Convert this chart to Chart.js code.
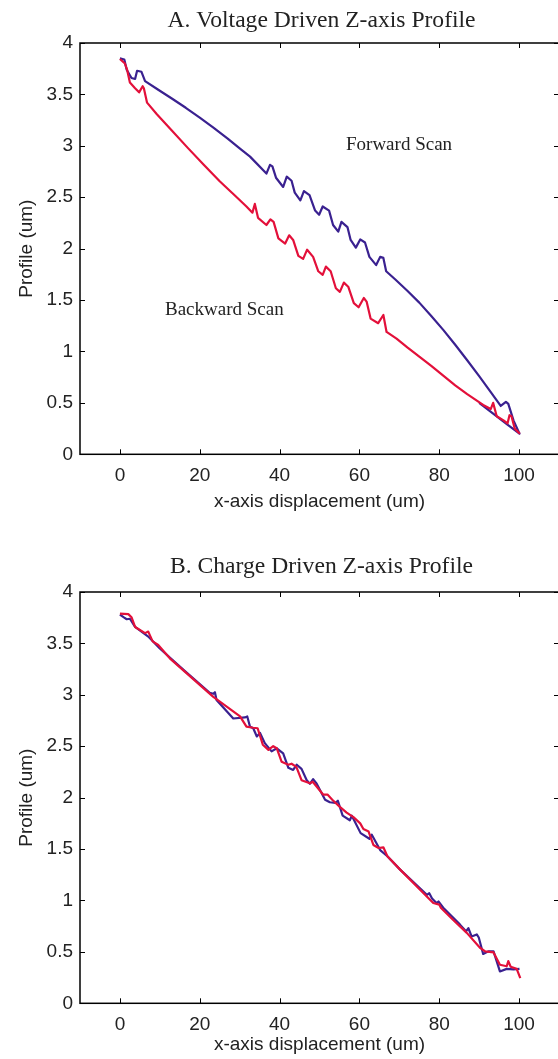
<!DOCTYPE html>
<html><head><meta charset="utf-8">
<script src="https://cdn.jsdelivr.net/npm/chart.js@4"></script>
<style>
html,body{margin:0;padding:0;background:#fff;overflow:hidden;width:558px;height:1059px;position:relative;}
canvas{position:absolute;left:0;}
#cA{top:0px}
#cB{top:549px}
</style></head><body>
<canvas id="cA" width="562" height="549"></canvas>
<canvas id="cB" width="562" height="549"></canvas>
<script>
// ---------- data ----------
const xTickVals = [0, 20, 40, 60, 80, 100];
const yTickVals = [0, 0.5, 1, 1.5, 2, 2.5, 3, 3.5, 4];
const yTickLabels = ['0', '0.5', '1', '1.5', '2', '2.5', '3', '3.5', '4'];

const titleA = 'A. Voltage Driven Z-axis Profile';
const titleB = 'B. Charge Driven Z-axis Profile';
const xAxisTitle = 'x-axis displacement (um)';
const yAxisTitle = 'Profile (um)';
const noteForward = 'Forward Scan';
const noteBackward = 'Backward Scan';

// A: forward scan (blue)
const aFwdX = [0, 1.1, 1.7, 2.9, 3.8, 4.3, 5.4, 6.3, 9.6, 13, 16.5, 20, 23.5, 27, 30, 32.6, 36.7, 37.6, 38.2, 39.1, 40.9, 41.8, 43.0, 43.8, 45.2, 46.1, 47.5, 48.9, 49.9, 50.8, 52.4, 53.4, 54.7, 55.5, 57.0, 57.8, 59.1, 60.2, 61.4, 62.5, 64.2, 65.2, 66.0, 66.7, 69, 72, 75, 78, 81, 84, 87, 90, 93, 95.4, 96.7, 97.3, 98.6, 100.1, 97, 94, 90];
const aFwdY = [3.85, 3.84, 3.74, 3.66, 3.65, 3.73, 3.72, 3.63, 3.545, 3.46, 3.37, 3.275, 3.175, 3.07, 2.975, 2.895, 2.73, 2.815, 2.80, 2.69, 2.60, 2.70, 2.66, 2.545, 2.47, 2.56, 2.52, 2.37, 2.33, 2.41, 2.37, 2.23, 2.165, 2.26, 2.21, 2.085, 2.01, 2.09, 2.06, 1.92, 1.84, 1.92, 1.91, 1.78, 1.70, 1.59, 1.475, 1.345, 1.21, 1.065, 0.915, 0.76, 0.60, 0.47, 0.51, 0.49, 0.33, 0.20, 0.29, 0.38, 0.50];
// A: backward scan (red)
const aBwdX = [0, 1.25, 1.8, 2.5, 3.8, 4.8, 5.7, 6.0, 6.8, 9.2, 13, 17, 21, 25, 29, 31.7, 33.2, 33.8, 34.6, 36.7, 37.7, 38.5, 39.7, 41.4, 42.4, 43.4, 44.7, 45.9, 46.9, 48.4, 49.7, 50.8, 51.6, 52.8, 54.1, 55.1, 56.1, 57.2, 58.6, 59.8, 61.1, 61.8, 62.8, 64.7, 66.0, 66.8, 69.3, 72, 75, 78, 81, 84, 87, 91.0, 92.9, 93.5, 94.4, 96.1, 97.1, 97.6, 98.1, 98.9, 100.2];
const aBwdY = [3.845, 3.80, 3.74, 3.615, 3.56, 3.52, 3.58, 3.56, 3.42, 3.31, 3.15, 2.98, 2.815, 2.655, 2.51, 2.41, 2.35, 2.435, 2.30, 2.23, 2.285, 2.26, 2.10, 2.05, 2.13, 2.085, 1.93, 1.90, 1.99, 1.92, 1.78, 1.745, 1.825, 1.78, 1.615, 1.58, 1.67, 1.63, 1.47, 1.43, 1.52, 1.485, 1.32, 1.275, 1.355, 1.19, 1.125, 1.04, 0.95, 0.86, 0.765, 0.67, 0.585, 0.48, 0.44, 0.50, 0.37, 0.33, 0.30, 0.38, 0.37, 0.25, 0.20];

// B: forward (blue)
const bFwdX = [0, 0.9, 1.7, 2.5, 3.8, 7.1, 10, 16, 22.5, 23.4, 23.8, 24.2, 28.4, 31.3, 31.9, 32.6, 33.4, 34.3, 35.1, 36.3, 38.0, 39.3, 40.9, 42.2, 43.4, 44.3, 45.5, 46.8, 47.6, 48.4, 49.3, 51.4, 52.6, 54.0, 54.6, 55.8, 57.6, 58.1, 60.3, 62.5, 63.1, 65.2, 67.0, 70.2, 76.9, 77.5, 78.2, 79.3, 79.8, 81.0, 85.2, 86.7, 87.3, 88.1, 89.4, 89.9, 91.0, 92.3, 93.6, 95.2, 96.9, 98.6, 100.1];
const bFwdY = [3.78, 3.755, 3.735, 3.74, 3.66, 3.567, 3.45, 3.24, 3.02, 3.01, 3.025, 2.95, 2.77, 2.78, 2.79, 2.69, 2.675, 2.595, 2.63, 2.53, 2.45, 2.48, 2.43, 2.29, 2.27, 2.32, 2.28, 2.17, 2.135, 2.18, 2.135, 1.98, 1.955, 1.95, 1.97, 1.825, 1.78, 1.825, 1.655, 1.60, 1.64, 1.49, 1.43, 1.30, 1.055, 1.07, 1.02, 0.975, 0.99, 0.93, 0.765, 0.70, 0.73, 0.65, 0.67, 0.64, 0.48, 0.505, 0.505, 0.31, 0.335, 0.33, 0.335];
// B: backward (red)
const bBwdX = [0, 2.1, 2.9, 3.8, 6.3, 7.1, 8.2, 9.6, 12.5, 23.4, 30.1, 31.7, 33.4, 34.5, 35.8, 37.2, 38.4, 39.3, 40.5, 42.2, 43.0, 44.2, 45.5, 47.6, 48.3, 50.9, 52.0, 53.2, 55.1, 56.8, 58.5, 60.2, 61.0, 62.3, 63.5, 64.8, 66.0, 67.0, 70.2, 78.5, 80.0, 80.4, 83.5, 86.9, 90.2, 91.5, 93.6, 95.2, 96.9, 97.3, 97.9, 99.4, 100.3];
const bBwdY = [3.79, 3.785, 3.755, 3.66, 3.60, 3.615, 3.52, 3.485, 3.355, 2.98, 2.79, 2.69, 2.68, 2.675, 2.515, 2.465, 2.50, 2.48, 2.35, 2.32, 2.33, 2.30, 2.17, 2.14, 2.155, 2.03, 2.03, 1.98, 1.91, 1.855, 1.81, 1.75, 1.695, 1.67, 1.54, 1.51, 1.517, 1.43, 1.30, 0.975, 0.96, 0.93, 0.81, 0.685, 0.54, 0.505, 0.495, 0.375, 0.36, 0.41, 0.355, 0.335, 0.245];

// ---------- styles ----------
const BLUE = '#3a2190';
const RED = '#e3103a';
const TXT = '#222222';
const SANS = "'Liberation Sans', Arial, sans-serif";
const SERIF = "'Liberation Serif', 'Times New Roman', serif";

function pts(xs, ys) { return xs.map((x, i) => ({ x: x, y: ys[i] })); }

function makeChart(id, title, titleGap, fwd, bwd, notes, xTitleGap) {
  const canvas = document.getElementById(id);
  const H = canvas.height;
  const plotBottom = 454.3;
  const xScaleH = 58.5 + (xTitleGap || 0);
  const padBottom = H - plotBottom - xScaleH;

  const framePlugin = {
    id: 'frame_' + id,
    afterDatasetsDraw(chart) {
      const ctx = chart.ctx;
      const a = chart.chartArea;
      const xs = chart.scales.x, ys = chart.scales.y;
      ctx.save();
      ctx.strokeStyle = '#000';
      ctx.lineWidth = 1.5;
      ctx.strokeRect(a.left, a.top, a.right - a.left, a.bottom - a.top);
      ctx.lineWidth = 1;
      const tl = 5;
      ctx.beginPath();
      xTickVals.forEach(v => {
        const p = Math.round(xs.getPixelForValue(v)) + 0.5;
        ctx.moveTo(p, a.bottom); ctx.lineTo(p, a.bottom - tl);
        ctx.moveTo(p, a.top); ctx.lineTo(p, a.top + tl);
      });
      yTickVals.forEach(v => {
        const p = Math.round(ys.getPixelForValue(v)) + 0.5;
        ctx.moveTo(a.left, p); ctx.lineTo(a.left + tl, p);
        ctx.moveTo(a.right, p); ctx.lineTo(a.right - tl, p);
      });
      ctx.stroke();
      // title
      ctx.fillStyle = TXT;
      ctx.textAlign = 'center';
      ctx.textBaseline = 'alphabetic';
      ctx.font = '23.6px ' + SERIF;
      ctx.fillText(title, (a.left + a.right) / 2 + 2, a.top - titleGap);
      // notes
      ctx.font = '19px ' + SERIF;
      ctx.textAlign = 'left';
      notes.forEach(n => ctx.fillText(n.text, n.x, n.y));
      ctx.restore();
    }
  };

  return new Chart(canvas, {
    type: 'scatter',
    data: {
      datasets: [
        { label: 'Backward', data: pts(bwd[0], bwd[1]), showLine: true, borderColor: RED, backgroundColor: RED, borderWidth: 2.2, pointRadius: 0, tension: 0, borderJoinStyle: 'round' },
        { label: 'Forward', data: pts(fwd[0], fwd[1]), showLine: true, borderColor: BLUE, backgroundColor: BLUE, borderWidth: 2.2, pointRadius: 0, tension: 0, borderJoinStyle: 'round' }
      ]
    },
    options: {
      responsive: false,
      animation: false,
      devicePixelRatio: 1,
      layout: { padding: { left: 0, right: canvas.width - 559, top: 43, bottom: padBottom } },
      plugins: { legend: { display: false }, tooltip: { enabled: false }, title: { display: false } },
      scales: {
        x: {
          type: 'linear', min: -10, max: 110,
          afterBuildTicks: s => { s.ticks = xTickVals.map(v => ({ value: v })); },
          afterFit: s => { s.height = xScaleH; },
          grid: { display: false, drawTicks: false }, border: { display: false },
          ticks: { font: { family: SANS, size: 19 }, color: TXT, padding: 10, maxRotation: 0, autoSkip: false, callback: v => String(v) },
          title: { display: true, text: xAxisTitle, font: { family: SANS, size: 19 }, color: TXT, padding: { top: 0, bottom: 0 } }
        },
        y: {
          type: 'linear', min: 0, max: 4,
          afterBuildTicks: s => { s.ticks = yTickVals.map(v => ({ value: v })); },
          afterFit: s => { s.width = 80; },
          grid: { display: false, drawTicks: false }, border: { display: false },
          ticks: { font: { family: SANS, size: 19 }, color: TXT, padding: 7, autoSkip: false, callback: (v, i) => yTickLabels[i] },
          title: { display: true, text: yAxisTitle, font: { family: SANS, size: 19 }, color: TXT, padding: { top: 15.6, bottom: 0 } }
        }
      }
    },
    plugins: [framePlugin]
  });
}

makeChart('cA', titleA, 16.3, [aFwdX, aFwdY], [aBwdX, aBwdY],
  [{ text: noteForward, x: 346, y: 150 }, { text: noteBackward, x: 165, y: 315 }], 0);
makeChart('cB', titleB, 19.3, [bFwdX, bFwdY], [bBwdX, bBwdY], [], -6);
</script>
</body></html>
